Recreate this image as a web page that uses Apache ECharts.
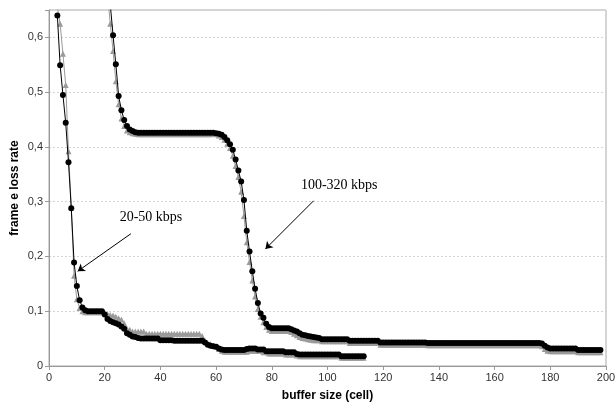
<!DOCTYPE html>
<html>
<head>
<meta charset="utf-8">
<script src="https://cdn.jsdelivr.net/npm/echarts@6/dist/echarts.min.js"></script>
<style>
html,body{margin:0;padding:0;background:#fff;}
#chart{width:615px;height:407px;}
</style>
</head>
<body>
<div id="chart"></div>
<script>
// buffer size starts (cells) for each curve group
var lowStart = 3;    // 20-50 kbps curves start at buffer size 3
var highStart = 20;  // 100-320 kbps curves start at buffer size 20

// 20-50 kbps, black circles (x = 3..113)
var lowBlack = [
  0.640,0.549,0.495,0.444,0.372,0.288,0.189,0.146,0.120,0.107,0.102,
  0.100,0.100,0.100,0.100,0.100,0.100,
  0.094,0.086,0.082,0.080,0.078,0.076,0.072,0.068,0.060,0.057,0.054,0.053,0.051,
  0.050,0.050,0.050,0.050,0.050,0.050,0.050,
  0.047,0.047,0.047,0.047,0.047,
  0.046,0.046,0.046,0.046,0.046,0.046,0.046,0.046,0.046,0.046,0.046,
  0.043,0.039,0.037,0.036,0.035,0.032,0.030,
  0.029,0.029,0.029,0.029,0.029,0.029,0.029,0.029,
  0.031,0.032,0.032,0.032,
  0.030,0.030,0.030,
  0.027,0.027,0.027,0.027,0.027,0.027,0.027,
  0.025,0.025,0.025,0.025,
  0.022,
  0.021,0.021,0.021,0.021,0.021,0.021,0.021,0.021,0.021,0.021,0.021,0.021,0.021,0.021,0.021,
  0.018,0.018,0.018,0.018,0.018,0.018,0.018,0.018,0.018
];

// 20-50 kbps, grey triangles (x = 3..113)
var lowGrey = [
  0.655,0.625,0.570,0.513,0.392,0.290,0.165,0.122,0.106,0.100,
  0.098,0.098,0.098,0.098,0.098,0.098,0.098,
  0.097,0.095,0.093,0.092,0.090,0.087,0.085,0.078,0.068,0.066,0.063,0.063,0.063,0.063,0.063,
  0.059,0.059,0.059,0.059,0.059,0.059,0.059,0.059,0.059,0.059,
  0.059,0.059,0.059,0.059,0.059,0.059,0.059,0.059,0.059,0.059,
  0.055,0.046,0.042,0.040,0.037,0.035,0.031,0.028,
  0.026,0.026,0.026,0.026,0.026,0.026,0.026,0.026,0.026,
  0.028,0.028,0.028,0.028,0.028,
  0.025,0.025,
  0.023,0.023,0.023,0.023,0.023,0.023,
  0.021,0.021,0.021,0.021,
  0.019,
  0.018,0.018,0.018,0.018,0.018,0.018,0.018,0.018,0.018,0.018,0.018,0.018,0.018,0.018,0.018,
  0.015,0.015,0.015,0.015,0.015,0.015,0.015,0.015,0.015
];

// 100-320 kbps, black circles (x = 20..198)
var highBlack = [
  0.760,0.710,0.660,0.604,0.551,0.493,0.467,0.449,0.438,0.432,0.429,0.427,
  0.426,0.426,0.426,0.426,0.426,0.426,0.426,0.426,0.426,0.426,0.426,0.426,0.426,0.426,
  0.426,0.426,0.426,0.426,0.426,0.426,0.426,0.426,0.426,0.426,0.426,0.426,0.426,0.426,
  0.425,0.424,0.422,0.418,0.412,0.405,0.395,0.377,0.357,0.337,0.303,0.247,0.209,0.173,0.141,0.115,0.096,0.088,0.077,0.071,
  0.069,0.069,0.069,0.069,0.069,0.069,0.069,
  0.067,0.065,0.063,0.060,0.057,0.056,0.055,0.054,0.053,0.052,0.051,
  0.049,0.049,0.049,0.049,0.049,0.049,0.049,0.049,0.049,0.049,
  0.046,0.046,0.046,0.046,0.046,0.046,0.046,0.046,0.046,0.046,0.046,
  0.043,0.043,0.043,0.043,0.043,0.043,0.043,0.043,0.043,0.043,0.043,0.043,0.043,0.043,0.043,0.043,0.043,
  0.042,0.042,0.042,0.042,0.042,0.042,0.042,0.042,0.042,0.042,
  0.042,0.042,0.042,0.042,0.042,0.042,0.042,0.042,0.042,0.042,
  0.042,0.042,0.042,0.042,0.042,0.042,0.042,0.042,0.042,0.042,
  0.042,0.042,0.042,0.042,0.042,0.042,0.042,0.042,0.042,0.042,0.042,
  0.041,0.037,0.034,
  0.032,0.032,0.032,0.032,0.032,0.032,0.032,0.032,0.032,0.032,
  0.029,0.029,0.029,0.029,0.029,0.029,0.029,0.029,0.029
];

// 100-320 kbps, grey triangles (x = 20..198)
var highGrey = [
  0.730,0.680,0.625,0.575,0.520,0.478,0.452,0.438,0.430,0.427,0.425,0.424,
  0.423,0.423,0.423,0.423,0.423,0.423,0.423,0.423,0.423,0.423,0.423,0.423,0.423,0.423,
  0.423,0.423,0.423,0.423,0.423,0.423,0.423,0.423,0.423,0.423,0.423,0.423,0.423,
  0.424,0.423,0.421,0.418,0.413,0.406,0.398,0.384,0.365,0.345,0.318,0.274,0.226,0.190,0.156,0.127,0.104,0.090,0.080,0.071,0.066,
  0.064,0.064,0.064,0.064,0.064,0.064,0.064,
  0.062,0.059,0.056,0.053,0.051,0.050,0.049,0.048,0.047,0.047,0.047,
  0.045,0.045,0.045,0.045,0.045,0.045,0.045,0.045,0.045,0.045,
  0.042,0.042,0.042,0.042,0.042,0.042,0.042,0.042,0.042,0.042,0.042,
  0.039,0.039,0.039,0.039,0.039,0.039,0.039,0.039,0.039,0.039,0.039,0.039,0.039,0.039,0.039,0.039,0.039,
  0.038,0.038,0.038,0.038,0.038,0.038,0.038,0.038,0.038,0.038,
  0.038,0.038,0.038,0.038,0.038,0.038,0.038,0.038,0.038,0.038,
  0.038,0.038,0.038,0.038,0.038,0.038,0.038,0.038,0.038,0.038,
  0.038,0.038,0.038,0.038,0.038,0.038,0.038,0.038,0.038,0.038,0.038,
  0.036,0.031,0.028,
  0.027,0.027,0.027,0.027,0.027,0.027,0.027,0.027,0.027,0.027,
  0.025,0.025,0.025,0.025,0.025,0.025,0.025,0.025,0.025
];

var xTicks = {min: 0, max: 200, interval: 20};
var yTicks = {min: 0, max: 0.65, interval: 0.1};

var labelLow = '20-50 kbps';
var labelHigh = '100-320 kbps';
var labelLowAt = [36.6, 0.271];
var labelHighAt = [104.2, 0.330];
var arrowLow = [[29.4, 0.2415], [10.3, 0.173]];
var arrowHigh = [[95.0, 0.3016], [77.7, 0.2136]];

function pairs(start, ys) {
  return ys.map(function (v, i) { return [start + i, v]; });
}

var chart = echarts.init(document.getElementById('chart'), null, {renderer: 'canvas'});

var greyStyle = {
  type: 'line',
  symbol: 'triangle',
  symbolSize: 6,
  itemStyle: {color: '#9a9a9a', borderWidth: 0},
  lineStyle: {color: '#9a9a9a', width: 1},
  clip: true,
  animation: false,
  z: 2
};
var blackStyle = {
  type: 'line',
  symbol: 'circle',
  symbolSize: 6,
  itemStyle: {color: '#000', borderWidth: 0},
  lineStyle: {color: '#000', width: 1},
  clip: true,
  animation: false,
  z: 3
};

var annoLabel = {
  show: true,
  position: 'inside',
  color: '#000',
  fontFamily: 'Liberation Serif',
  fontSize: 14
};

function arrowLine(pts) {
  return {
    silent: true, symbol: ['none', 'arrow'], symbolSize: 7,
    lineStyle: {color: '#000', width: 1, type: 'solid'},
    itemStyle: {color: '#000'},
    label: {show: false},
    emphasis: {disabled: true},
    data: [[{coord: pts[0]}, {coord: pts[1]}]]
  };
}

chart.setOption({
  animation: false,
  backgroundColor: '#fff',
  grid: {
    left: 49, right: 9, top: 10, bottom: 41,
    containLabel: false, outerBoundsMode: 'none',
    show: true, borderColor: '#aaaaaa', borderWidth: 1, backgroundColor: 'transparent'
  },
  xAxis: {
    type: 'value',
    min: xTicks.min, max: xTicks.max, interval: xTicks.interval,
    name: 'buffer size (cell)',
    nameLocation: 'middle',
    nameGap: 24,
    nameMoveOverlap: false,
    nameTextStyle: {fontFamily: 'Liberation Sans', fontWeight: 'bold', fontSize: 12, color: '#000'},
    axisLine: {show: true, lineStyle: {color: '#999999'}},
    axisTick: {show: true, length: 4, lineStyle: {color: '#999999'}},
    axisLabel: {fontFamily: 'Liberation Sans', fontSize: 11, color: '#333', margin: 6},
    splitLine: {show: false}
  },
  yAxis: {
    type: 'value',
    min: yTicks.min, max: yTicks.max, interval: yTicks.interval,
    name: 'frame e loss rate',
    nameLocation: 'middle',
    nameGap: 28,
    nameMoveOverlap: false,
    nameRotate: 90,
    nameTextStyle: {fontFamily: 'Liberation Sans', fontWeight: 'bold', fontSize: 12, color: '#000'},
    axisLine: {show: true, lineStyle: {color: '#999999'}},
    axisTick: {show: true, length: 4, lineStyle: {color: '#999999'}},
    axisLabel: {
      fontFamily: 'Liberation Sans', fontSize: 11, color: '#333', margin: 6,
      formatter: function (v) {
        if (v > 0.6 + 1e-9) return '';
        if (Math.abs(v) < 1e-9) return '0';
        return v.toFixed(1).replace('.', ',');
      }
    },
    splitLine: {show: true, lineStyle: {color: '#d4d4d4', type: [2, 2], width: 1}}
  },
  series: [
    Object.assign({name: 'low grey', data: pairs(lowStart, lowGrey)}, greyStyle),
    Object.assign({name: 'high grey', data: pairs(highStart, highGrey)}, greyStyle),
    Object.assign({name: 'low black', data: pairs(lowStart, lowBlack),
      markLine: arrowLine(arrowLow),
      markPoint: {
        silent: true, symbol: 'circle', symbolSize: 1,
        itemStyle: {color: 'rgba(0,0,0,0)'},
        label: annoLabel,
        data: [{coord: labelLowAt, value: labelLow, label: {formatter: labelLow}}]
      }
    }, blackStyle),
    Object.assign({name: 'high black', data: pairs(highStart, highBlack),
      markLine: arrowLine(arrowHigh),
      markPoint: {
        silent: true, symbol: 'circle', symbolSize: 1,
        itemStyle: {color: 'rgba(0,0,0,0)'},
        label: annoLabel,
        data: [{coord: labelHighAt, value: labelHigh, label: {formatter: labelHigh}}]
      }
    }, blackStyle)
  ]
});
</script>
</body>
</html>
